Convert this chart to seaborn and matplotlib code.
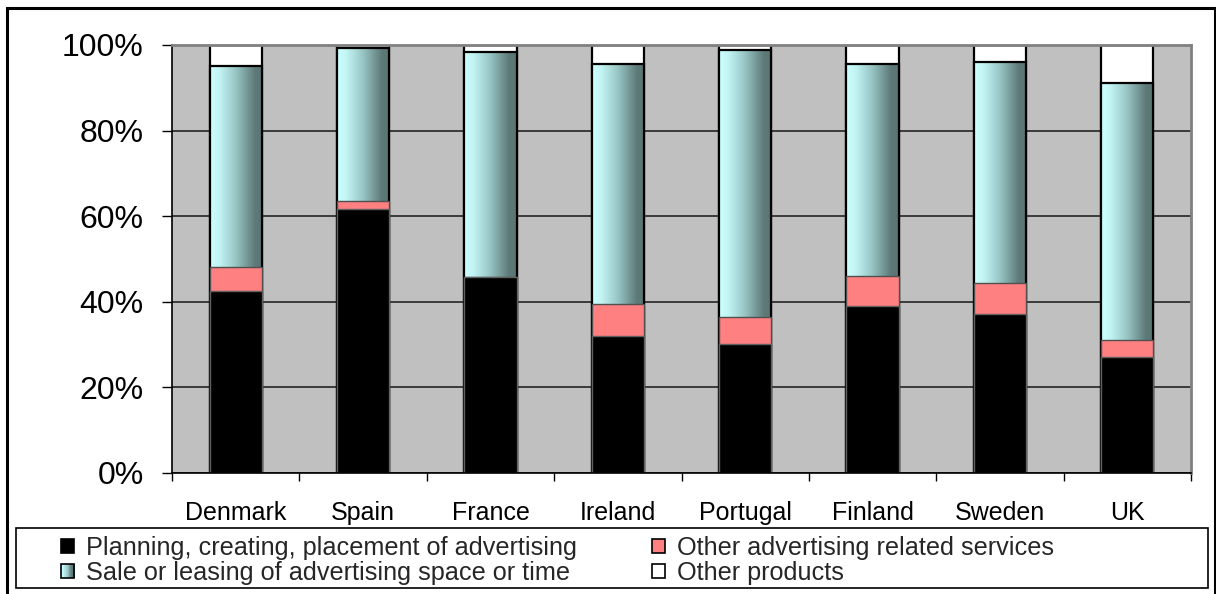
import numpy as np
import pandas as pd
import matplotlib
matplotlib.use("Agg")
import matplotlib.pyplot as plt
import seaborn as sns
from matplotlib.colors import LinearSegmentedColormap
from matplotlib.patches import Rectangle
from matplotlib.legend_handler import HandlerBase

# Output breakdown by product type, share of total (%)
countries = ["Denmark", "Spain", "France", "Ireland", "Portugal", "Finland", "Sweden", "UK"]
planning = [42.6, 61.7, 45.9, 32.1, 30.1, 39.0, 37.1, 27.1]
other_services = [5.6, 1.9, 0.0, 7.4, 6.3, 7.0, 7.3, 4.0]
sale_leasing = [47.0, 35.6, 52.5, 56.1, 62.4, 49.6, 51.6, 60.0]
other_products = [4.8, 0.8, 1.6, 4.4, 1.2, 4.4, 4.0, 8.9]

series_labels = [
    "Planning, creating, placement of advertising",
    "Other advertising related services",
    "Sale or leasing of advertising space or time",
    "Other products",
]
y_ticks = [0, 20, 40, 60, 80, 100]
y_tick_labels = ["0%", "20%", "40%", "60%", "80%", "100%"]

sns.set_theme(style="white")
plt.rcParams["font.family"] = ["Liberation Sans", "DejaVu Sans"]

teal_cmap = LinearSegmentedColormap.from_list(
    "teal_fade",
    [(0.0, "#CCFFFF"), (0.18, "#C2F4F4"), (0.5, "#96C4C3"), (0.85, "#5E7A78"), (1.0, "#5A7573")],
)

df = pd.DataFrame({
    "country": countries,
    "planning": planning,
    "services": other_services,
    "sale": sale_leasing,
    "other": other_products,
})
df["top_planning"] = df["planning"]
df["top_services"] = df["top_planning"] + df["services"]
df["top_sale"] = df["top_services"] + df["sale"]
df["top_other"] = df["top_sale"] + df["other"]

fig = plt.figure(figsize=(12.16, 5.94), dpi=100)
ax = fig.add_axes([172 / 1216, 121 / 594, (1191 - 172) / 1216, (473 - 45) / 594])
ax.set_facecolor("#C0C0C0")

bar_w = 0.41

# Layers are drawn from the tallest cumulative total down, each on top of the previous
sns.barplot(data=df, x="country", y="top_other", order=countries, color="white",
            saturation=1, width=bar_w, edgecolor="black", linewidth=1.6, zorder=2, ax=ax)
n_prev = len(ax.patches)
sns.barplot(data=df, x="country", y="top_sale", order=countries, color="none",
            saturation=1, width=bar_w, edgecolor="black", linewidth=1.6, zorder=3.2, ax=ax)
sale_patches = ax.patches[n_prev:]
grad = np.linspace(0, 1, 256).reshape(1, -1)
for p in sale_patches:
    x0, y0 = p.get_x(), p.get_y()
    w, h = p.get_width(), p.get_height()
    im = ax.imshow(grad, cmap=teal_cmap, extent=(x0, x0 + w, y0, y0 + h),
                   aspect="auto", zorder=3.1, interpolation="bilinear")
    im.set_clip_path(p)
sns.barplot(data=df, x="country", y="top_services", order=countries, color="#FF8080",
            saturation=1, width=bar_w, edgecolor="#505050", linewidth=1.0, zorder=4, ax=ax)
sns.barplot(data=df, x="country", y="top_planning", order=countries, color="black",
            saturation=1, width=bar_w, edgecolor="#606060", linewidth=1.0, zorder=5, ax=ax)

ax.set_xlim(-0.5, len(countries) - 0.5)
ax.set_ylim(0, 100)
ax.set_xlabel("")
ax.set_ylabel("")

ax.set_yticks(y_ticks)
ax.set_yticklabels(y_tick_labels, fontsize=23, color="black")
ax.tick_params(axis="y", which="major", left=True, direction="out", length=7.5,
               width=1.0, color="black", pad=13)
ax.yaxis.grid(True, color="#303030", linewidth=1.3)
ax.xaxis.grid(False)
ax.set_axisbelow(True)

ax.set_xticks(range(len(countries)))
ax.set_xticklabels(countries, fontsize=18, color="black")
ax.tick_params(axis="x", which="major", bottom=False, length=0, pad=20.5)
ax.set_xticks(np.arange(-0.5, len(countries), 1.0), minor=True)
ax.tick_params(axis="x", which="minor", bottom=True, direction="out", length=6,
               width=1.0, color="black")

for side in ["left", "bottom"]:
    ax.spines[side].set_color("black")
    ax.spines[side].set_linewidth(1.2)
for side in ["top", "right"]:
    ax.spines[side].set_color("#808080")
    ax.spines[side].set_linewidth(2.0)
for s in ax.spines.values():
    s.set_zorder(6)


class GradientHandler(HandlerBase):
    def create_artists(self, legend, orig_handle, xdescent, ydescent, width, height,
                       fontsize, trans):
        artists = []
        n = 14
        for i in range(n):
            artists.append(Rectangle((-xdescent + width * i / n, -ydescent), width / n + 0.3,
                                     height, facecolor=teal_cmap((i + 0.5) / n),
                                     edgecolor="none", transform=trans))
        artists.append(Rectangle((-xdescent, -ydescent), width, height, facecolor="none",
                                 edgecolor="black", linewidth=1.2, transform=trans))
        return artists


h_planning = Rectangle((0, 0), 1, 1, facecolor="black", edgecolor="black", linewidth=1.2)
h_services = Rectangle((0, 0), 1, 1, facecolor="#FF8080", edgecolor="black", linewidth=1.2)
h_sale = Rectangle((0, 0), 1, 1, facecolor="#99CCCC", edgecolor="black", linewidth=1.2)
h_other = Rectangle((0, 0), 1, 1, facecolor="white", edgecolor="black", linewidth=1.2)

leg = fig.legend(
    [h_planning, h_sale, h_services, h_other],
    [series_labels[0], series_labels[2], series_labels[1], series_labels[3]],
    handler_map={h_sale: GradientHandler()},
    ncol=2, loc="upper left", bbox_to_anchor=(61 / 1216, 1 - 536 / 594),
    frameon=False, fontsize=18.2, borderpad=0, borderaxespad=0,
    handlelength=0.52, handleheight=0.52, handletextpad=0.45,
    columnspacing=3.0, labelspacing=0.04,
)

# Legend frame and outer chart border
fig.add_artist(Rectangle((16 / 1216, 1 - 588 / 594), (1208 - 16) / 1216, 60 / 594,
                         transform=fig.transFigure, facecolor="none",
                         edgecolor="black", linewidth=1.2))
fig.add_artist(Rectangle((6.5 / 1216, -0.05), (1214.5 - 6.5) / 1216, 1.05 - 7.5 / 594,
                         transform=fig.transFigure, facecolor="none",
                         edgecolor="black", linewidth=2.2, clip_on=False))

fig.savefig("out.png", dpi=100, facecolor="white")
